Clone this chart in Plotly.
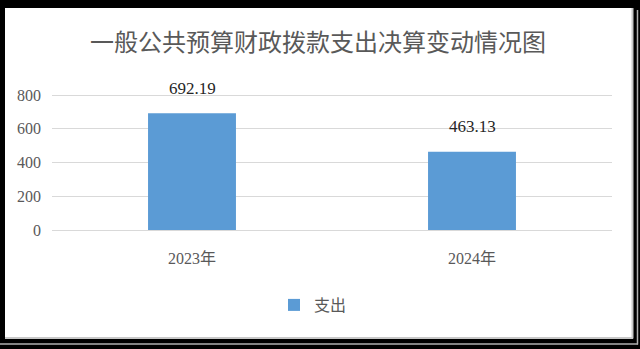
import plotly.graph_objects as go

categories = ["2023年", "2024年"]
values = [692.19, 463.13]
series_name = "支出"
title_text = "一般公共预算财政拨款支出决算变动情况图"
y_ticks = [0, 200, 400, 600, 800]

W, H = 640, 349
L, R, T, B = 52, 28, 94, 119
PW, PH = W - L - R, H - T - B

def px(x):
    return (x - L) / PW

def py(y):
    return (H - B - y) / PH

serif = "Liberation Serif, Noto Sans CJK SC, serif"
gray = "#595959"

fig = go.Figure()
fig.add_trace(go.Bar(
    x=categories, y=values, name=series_name,
    marker=dict(color="#5b9bd5", line=dict(width=0)),
    showlegend=True,
))

for c, v in zip(categories, values):
    fig.add_annotation(x=c, y=v, text=f"{v:.2f}", showarrow=False,
                       yanchor="middle", yshift=25,
                       font=dict(family=serif, size=17, color="#262626"))

shapes = [
    dict(type="rect", xref="paper", yref="paper", layer="below",
         x0=px(5), x1=px(632), y0=py(337), y1=py(8),
         fillcolor="white", line=dict(width=0)),
    dict(type="line", xref="paper", yref="paper", layer="below",
         x0=px(632.5), x1=px(632.5), y0=py(8), y1=py(338.5),
         line=dict(color="#c8c8c8", width=2)),
    dict(type="line", xref="paper", yref="paper", layer="below",
         x0=px(5), x1=px(633), y0=py(338), y1=py(338),
         line=dict(color="#c8c8c8", width=2)),
    dict(type="line", xref="paper", yref="paper", layer="below",
         x0=px(637.5), x1=px(637.5), y0=py(10), y1=py(344.5),
         line=dict(color="#b0b0b0", width=1.5)),
    dict(type="line", xref="paper", yref="paper", layer="below",
         x0=px(0), x1=px(638), y0=py(344), y1=py(344),
         line=dict(color="#b0b0b0", width=1.5)),
]

fig.update_layout(
    width=W, height=H,
    margin=dict(l=L, r=R, t=T, b=B, pad=0),
    paper_bgcolor="black",
    plot_bgcolor="rgba(0,0,0,0)",
    shapes=shapes,
    bargap=0.686,
    title=dict(text=title_text, x=0.497, xanchor="center", xref="container",
               y=1 - 43 / H, yanchor="middle",
               font=dict(family="Noto Sans CJK SC", size=24, color=gray)),
    xaxis=dict(showgrid=False, showline=False, zeroline=False,
               ticks="", ticklabelstandoff=17,
               tickfont=dict(family=serif, size=16, color=gray)),
    yaxis=dict(range=[0, 806], tickvals=y_ticks, showgrid=True,
               gridcolor="#d9d9d9", gridwidth=1.3, zeroline=True,
               zerolinecolor="#d9d9d9", zerolinewidth=1.3,
               showline=False, ticks="", ticklabelstandoff=10,
               tickfont=dict(family=serif, size=16, color=gray)),
    legend=dict(orientation="h", x=px(313), xanchor="center",
                y=py(305), yanchor="middle",
                font=dict(family="Noto Sans CJK SC", size=16, color=gray),
                bgcolor="rgba(0,0,0,0)"),
)

fig.write_html("out.html")
